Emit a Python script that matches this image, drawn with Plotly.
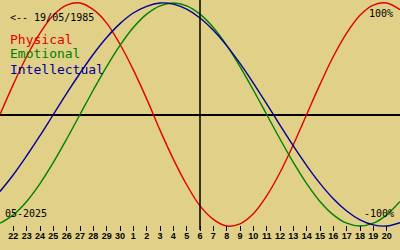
import plotly.graph_objects as go

# day offsets from the marked day (06 May 2025)
days = list(range(-15, 16))
tick_days = list(range(-14, 15))
tick_labels = ["22", "23", "24", "25", "26", "27", "28", "29", "30",
               "1", "2", "3", "4", "5", "6", "7", "8", "9", "10",
               "11", "12", "13", "14", "15", "16", "17", "18", "19", "20"]

physical = [0.0, 0.27, 0.52, 0.73, 0.89, 0.98, 1.0, 0.94, 0.82, 0.63, 0.40, 0.14,
            -0.14, -0.40, -0.63, -0.82, -0.94, -1.0, -0.98, -0.89, -0.73, -0.52, -0.27,
            0.0, 0.27, 0.52, 0.73, 0.89, 0.98, 1.0, 0.94]
emotional = [-0.975, -0.90, -0.78, -0.62, -0.43, -0.22, 0.0, 0.22, 0.43, 0.62, 0.78, 0.90,
             0.975, 1.0, 0.975, 0.90, 0.78, 0.62, 0.43, 0.22, 0.0, -0.22, -0.43, -0.62,
             -0.78, -0.90, -0.975, -1.0, -0.975, -0.90, -0.78]
intellectual = [-0.69, -0.54, -0.37, -0.19, 0.0, 0.19, 0.37, 0.54, 0.69, 0.815, 0.91, 0.97,
                1.0, 0.99, 0.945, 0.866, 0.756, 0.618, 0.458, 0.282, 0.095, -0.095, -0.282,
                -0.458, -0.618, -0.756, -0.866, -0.945, -0.99, -1.0, -0.97]

series = [("Physical", physical, "#e00000"),
          ("Emotional", emotional, "#008000"),
          ("Intellectual", intellectual, "#000099")]

bg = "#e0d088"
fig = go.Figure()
for name, vals, col in series:
    fig.add_trace(go.Scatter(x=days, y=vals, mode="lines", name=name,
                             line=dict(color=col, width=1.4, shape="spline"),
                             hoverinfo="skip"))

fig.update_layout(
    width=400, height=250, margin=dict(l=0, r=0, t=0, b=0),
    paper_bgcolor=bg, plot_bgcolor=bg, showlegend=False,
    xaxis=dict(range=[-15, 15], showgrid=False, zeroline=False, showline=False,
               anchor="free", position=0.1, side="bottom",
               tickmode="array", tickvals=tick_days, ticktext=tick_labels,
               ticks="outside", ticklen=5, tickwidth=1, tickcolor="black",
               ticklabelstandoff=-3,
               tickfont=dict(family="Liberation Sans", size=9, color="black",
                             weight="bold"),
               fixedrange=True),
    yaxis=dict(range=[-1.2152, 1.0269], showgrid=False, showticklabels=False,
               zeroline=True, zerolinecolor="black", zerolinewidth=2,
               showline=False, fixedrange=True),
)

# vertical marker for the selected day
fig.add_shape(type="line", xref="x", yref="paper", x0=0, x1=0, y0=0.08, y1=1,
              line=dict(color="black", width=1.5))

mono = "DejaVu Sans Mono"
def ann(text, x, y, size, color, xanchor="left"):
    fig.add_annotation(text=text, xref="paper", yref="paper", x=x/400, y=1-y/250,
                       xanchor=xanchor, yanchor="middle", showarrow=False,
                       font=dict(family=mono, size=size, color=color))

ann("<-- 19/05/1985", 8, 18, 10, "black")
ann("Physical", 8, 39, 13, "#e00000")
ann("Emotional", 8, 54, 13, "#008000")
ann("Intellectual", 8, 69, 13, "#000099")
ann("100%", 395, 13, 10, "black", "right")
ann("-100%", 396, 213, 10, "black", "right")
ann("05-2025", 3, 213, 10, "black")

fig.write_html("out.html")
